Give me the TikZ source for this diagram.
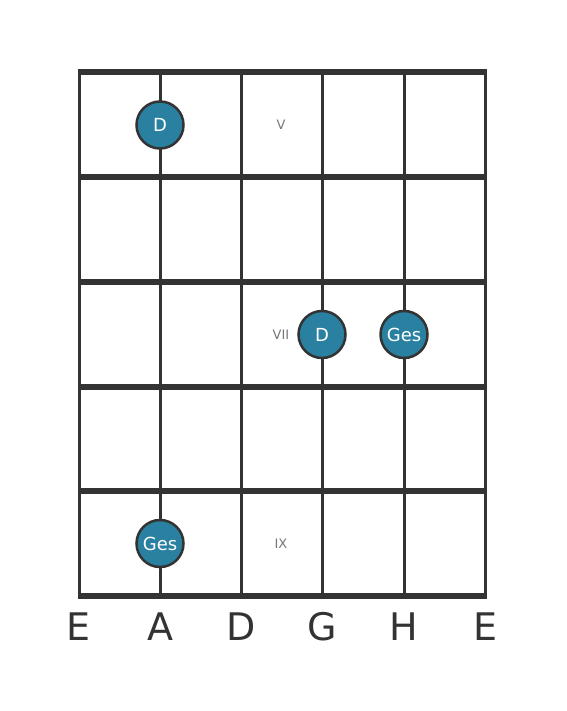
\documentclass[tikz,border=0pt]{standalone}
\usepackage{fontspec}
\setmainfont{DejaVu Sans}
\definecolor{gridc}{HTML}{333333}
\definecolor{dotc}{HTML}{2A80A0}
\definecolor{romc}{HTML}{777777}
\begin{document}
\begin{tikzpicture}[x=1pt,y=-1pt,
  stringline/.style={draw=gridc,line width=3pt},
  fretline/.style={draw=gridc,line width=5.5pt},
  dot/.style={circle,fill=dotc,draw=gridc,line width=2.5pt,minimum size=47pt,inner sep=0pt,text=white,font=\fontsize{18}{18}\selectfont},
  roman/.style={text=romc,font=\fontsize{13}{13}\selectfont},
  sname/.style={text=gridc,font=\fontsize{38}{38}\selectfont}]
\useasboundingbox (0,0) rectangle (566,711);
\foreach \x in {79,160,241,322,404,485} \draw[stringline] (\x,72) -- (\x,596);
\foreach \y in {72,177,282,387,491,596} \draw[fretline] (77.5,\y) -- (486.5,\y);
\node[roman] (r5) at (281,125) {V};
\node[roman] (r7) at (281,335) {VII};
\node[roman] (r9) at (281,544) {IX};
\node[dot] (d1) at (160,125) {D};
\node[dot] (d2) at (322,334.5) {D};
\node[dot] (g1) at (404,334.5) {Ges};
\node[dot] (g2) at (160,543.5) {Ges};
\foreach \x/\n [count=\i] in {79/E,160/A,241/D,322/G,404/H,485/E}
  \node[sname] (s\i) at (\x,627) {\n};
\end{tikzpicture}
\end{document}
